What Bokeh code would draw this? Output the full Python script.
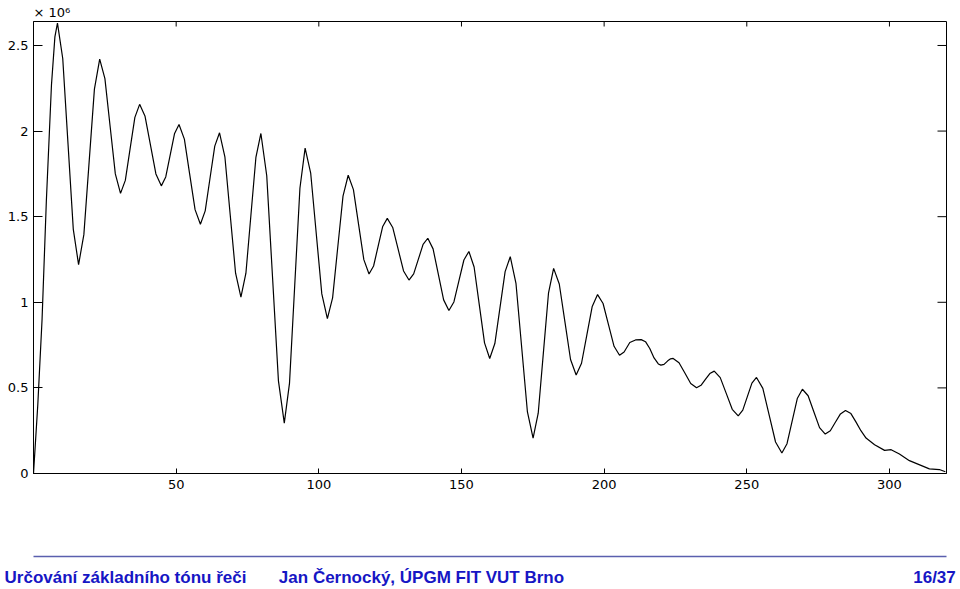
import math
from bokeh.plotting import figure
from bokeh.models import (Range1d, FixedTicker, LinearAxis, CustomJSTickFormatter, Title)
from bokeh.embed import file_html
from bokeh.resources import INLINE

# ---- data (autocorrelation, values in units of 1e6) ----
LAG = [0, 1.5, 3, 4.5, 6.3, 7.5, 8.4,
       10.25, 12.1, 13.95, 15.8,
       17.65, 19.5, 21.35, 23.2,
       25.03, 26.85, 28.68, 30.5,
       32.18, 33.85, 35.53, 37.2,
       39.1, 41.0, 42.9, 44.8,
       46.35, 47.9, 49.45, 51.0,
       52.88, 54.75, 56.63, 58.5,
       60.18, 61.85, 63.53, 65.2,
       67.08, 68.95, 70.83, 72.7,
       74.45, 76.2, 77.95, 79.7,
       81.75, 83.8, 85.85, 87.9,
       89.73, 91.55, 93.38, 95.2,
       97.15, 99.1, 101.05, 103.0,
       104.83, 106.65, 108.48, 110.3,
       112.13, 113.95, 115.78, 117.6,
       119.2, 120.8, 122.4, 124.0,
       125.9, 127.8, 129.7, 131.6,
       133.25, 134.9, 136.55, 138.2,
       140.05, 141.9, 143.75, 145.6,
       147.35, 149.1, 150.85, 152.6,
       154.43, 156.25, 158.08, 159.9,
       161.7, 163.5, 165.3, 167.1,
       169.1, 171.1, 173.1, 175.1,
       176.9, 178.7, 180.5, 182.3,
       184.28, 186.25, 188.23, 190.2,
       192.08, 193.95, 195.83, 197.7,
       199.63, 201.55, 203.48, 205.4,
       207, 209, 211, 213, 214.5,
       216, 217.5, 219, 219.9,
       221, 222.3, 223.3, 224.2,
       226.25, 228.3, 230.35, 232.4,
       233.95, 235.5, 237.05, 238.6,
       240.7, 242.8, 244.9, 247.0,
       248.6, 250.2, 251.8, 253.4,
       255.63, 257.85, 260.08, 262.3,
       264.1, 265.9, 267.7, 269.5,
       271.5, 273.5, 275.5, 277.5,
       279.28, 281.05, 282.83, 284.6,
       286.5, 288.3, 290, 291.8,
       294.8, 298.3, 300.6, 303.5, 307, 314, 317.5, 319.6]

R = [0, 0.4, 0.9, 1.59, 2.27, 2.55, 2.63,
     2.424, 1.925, 1.426, 1.22,
     1.395, 1.82, 2.245, 2.42,
     2.306, 2.028, 1.75, 1.636,
     1.712, 1.896, 2.08, 2.156,
     2.086, 1.918, 1.75, 1.68,
     1.732, 1.859, 1.986, 2.038,
     1.953, 1.747, 1.541, 1.456,
     1.534, 1.723, 1.912, 1.99,
     1.85, 1.51, 1.17, 1.03,
     1.17, 1.508, 1.846, 1.986,
     1.739, 1.14, 0.541, 0.294,
     0.528, 1.097, 1.666, 1.90,
     1.755, 1.402, 1.049, 0.904,
     1.026, 1.323, 1.62, 1.742,
     1.658, 1.454, 1.249, 1.165,
     1.212, 1.328, 1.443, 1.49,
     1.437, 1.31, 1.183, 1.13,
     1.166, 1.252, 1.338, 1.374,
     1.312, 1.163, 1.014, 0.952,
     1.002, 1.125, 1.247, 1.297,
     1.206, 0.985, 0.763, 0.672,
     0.759, 0.969, 1.179, 1.266,
     1.111, 0.737, 0.362, 0.207,
     0.352, 0.703, 1.053, 1.198,
     1.107, 0.887, 0.666, 0.575,
     0.644, 0.81, 0.976, 1.045,
     0.993, 0.868, 0.743, 0.691,
     0.71, 0.765, 0.78, 0.782, 0.77,
     0.73, 0.675, 0.64, 0.633,
     0.637, 0.658, 0.67, 0.672,
     0.647, 0.587, 0.526, 0.501,
     0.515, 0.55, 0.584, 0.598,
     0.56, 0.468, 0.375, 0.337,
     0.37, 0.449, 0.528, 0.561,
     0.497, 0.341, 0.184, 0.12,
     0.174, 0.306, 0.438, 0.492,
     0.454, 0.361, 0.268, 0.23,
     0.25, 0.299, 0.348, 0.368,
     0.35, 0.3, 0.25, 0.207,
     0.168, 0.135, 0.139, 0.114, 0.075, 0.027, 0.023, 0.01]

X_TICKS = [50, 100, 150, 200, 250, 300]
Y_TICKS = [0, 0.5, 1, 1.5, 2, 2.5]
X_MIN, X_MAX = 0, 320
Y_MIN, Y_MAX = 0, 2.64
SCALE_TEXT = "× 10⁶"

FOOT_TEXTS = ["Určování základního tónu řeči",
              "Jan Černocký, ÚPGM FIT VUT Brno",
              "16/37"]

TICK_FONT = "DejaVu Sans"
FOOT_FONT = "Liberation Sans"
FOOT_BLUE = "#1616c4"
FOOT_LINE = "#5a5fae"

# ---- layout (page pixels) ----
W, H = 960, 589
FR_L, FR_R, FR_T, FR_B = 33, 946, 20, 474
FOOT_RULE_Y = 557
TICK_AXIS_H = 18                      # space used by the x tick labels
FOOT_CENTERS_PX = [125, 421, 934]     # horizontal centres of the footer texts

p = figure(width=W, height=H, output_backend="svg", toolbar_location=None,
           x_range=Range1d(X_MIN, X_MAX), y_range=Range1d(Y_MIN, Y_MAX),
           x_axis_location=None, y_axis_location=None,
           min_border_left=FR_L, min_border_right=W - FR_R,
           min_border_top=FR_T, min_border_bottom=H - FR_B)
p.grid.visible = False
p.outline_line_color = "black"
p.outline_line_width = 1
p.background_fill_color = "white"
p.border_fill_color = "white"

def make_axis(ticks, tick_len, fmt=None):
    ax = LinearAxis(ticker=FixedTicker(ticks=ticks))
    ax.axis_line_color = "black"
    ax.major_tick_line_color = "black"
    ax.major_tick_in = tick_len
    ax.major_tick_out = 0
    ax.minor_tick_line_color = None
    ax.major_label_text_font = TICK_FONT
    ax.major_label_text_font_size = "13px"
    ax.major_label_text_color = "black"
    if fmt is not None:
        ax.formatter = fmt
    return ax

left = make_axis(Y_TICKS, 9, CustomJSTickFormatter(code="return tick.toString();"))
left.major_label_standoff = 5
bottom = make_axis(X_TICKS, 5)
bottom.major_label_standoff = 6
p.add_layout(left, "left")
p.add_layout(bottom, "below")

# inward ticks on the top and right edges of the box
p.ray(x=X_TICKS, y=[Y_MAX] * len(X_TICKS), length=5, length_units="screen",
      angle=-math.pi / 2, line_color="black", line_width=1)
p.ray(x=[X_MAX] * len(Y_TICKS), y=Y_TICKS, length=9, length_units="screen",
      angle=math.pi, line_color="black", line_width=1)

p.line(LAG, R, line_color="black", line_width=1.2)

# exponent of the y axis, above the top-left corner
p.add_layout(Title(text=SCALE_TEXT, align="left", standoff=4,
                   text_font=TICK_FONT, text_font_size="13px",
                   text_font_style="normal", text_color="black"), "above")

# ---- slide footer: blank spacer band, then a rule with the footer texts under it ----
spacer = LinearAxis(ticker=FixedTicker(ticks=[X_MIN]))
spacer.major_label_overrides = {X_MIN: ""}
spacer.axis_line_color = None
spacer.major_tick_line_color = "white"
spacer.minor_tick_line_color = None
spacer.major_tick_in = 0
spacer.major_tick_out = FOOT_RULE_Y - FR_B - TICK_AXIS_H
spacer.minor_tick_out = 0
spacer.major_label_standoff = 0
spacer.major_label_text_font_size = "1px"
spacer.major_label_text_color = "white"
p.add_layout(spacer, "below")

px_per_unit = (FR_R - FR_L) / (X_MAX - X_MIN)
foot_pos = [X_MIN + (c - FR_L) / px_per_unit for c in FOOT_CENTERS_PX]
foot = LinearAxis(ticker=FixedTicker(ticks=foot_pos))
foot.major_label_overrides = {pos: txt for pos, txt in zip(foot_pos, FOOT_TEXTS)}
foot.axis_line_color = FOOT_LINE
foot.axis_line_width = 1.5
foot.major_tick_line_color = None
foot.minor_tick_line_color = None
foot.major_tick_in = 0
foot.major_tick_out = 0
foot.minor_tick_out = 0
foot.major_label_standoff = 11
foot.major_label_text_font = FOOT_FONT
foot.major_label_text_font_style = "bold"
foot.major_label_text_font_size = "17px"
foot.major_label_text_color = FOOT_BLUE
p.add_layout(foot, "below")

open("out.html", "w").write(file_html(p, INLINE))
